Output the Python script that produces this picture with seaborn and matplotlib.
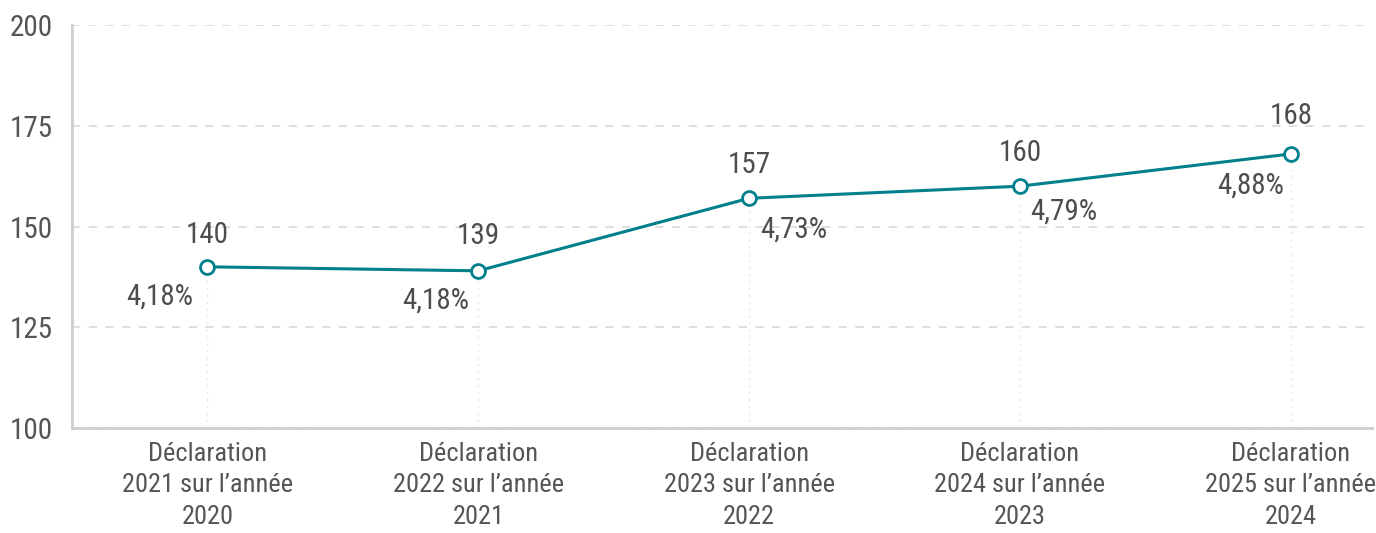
import matplotlib.pyplot as plt
import seaborn as sns
import pandas as pd
import numpy as np

# données
categories = [
    "Déclaration\n2021 sur l’année\n2020",
    "Déclaration\n2022 sur l’année\n2021",
    "Déclaration\n2023 sur l’année\n2022",
    "Déclaration\n2024 sur l’année\n2023",
    "Déclaration\n2025 sur l’année\n2024",
]
values = [140, 139, 157, 160, 168]
pct_labels = ["4,18%", "4,18%", "4,73%", "4,79%", "4,88%"]

# placement des étiquettes de pourcentage (pixels)
pct_offsets = [(-14, -30), (-9, -30), (11, -31), (10, -25), (-7, -32)]
pct_ha = ["right", "right", "left", "left", "right"]
val_offsets = [-32, -35, -33, -33, -38]

sns.set_style("white")
plt.rcParams["font.family"] = ["Roboto Condensed", "Barlow Condensed", "DejaVu Sans"]

TEAL = "#00808c"
TXT = "#555555"
GRID = "#d9d9d9"

df = pd.DataFrame({"x": np.arange(len(values)), "y": values})

fig = plt.figure(figsize=(13.76, 5.33), dpi=100)
ax = fig.add_axes([72 / 1376, 1 - 428 / 533, 1300 / 1376, 403 / 533])

ax.set_ylim(100, 200)
ax.set_xlim(-0.5, 4.3)
ax.set_yticks([100, 125, 150, 175, 200])
ax.yaxis.grid(True, color=GRID, linestyle=(0, (5, 5)), linewidth=1.2)
ax.set_axisbelow(True)

# lignes verticales pointillées
for i, v in enumerate(values):
    ax.plot([i, i], [100, v], color="#dddddd", linestyle=(0, (1, 4)), linewidth=1, zorder=1)

sns.lineplot(data=df, x="x", y="y", ax=ax, color=TEAL, linewidth=2.2,
             marker="o", markersize=10, markerfacecolor="white",
             markeredgecolor=TEAL, markeredgewidth=2, zorder=3)

px2pt = 72 / 100
for i, v in enumerate(values):
    ax.annotate(str(v), (i, v), xytext=(0, -val_offsets[i] * px2pt), textcoords="offset points",
                ha="center", va="center", fontsize=21, color="#4d4d4d")
    dx, dy = pct_offsets[i]
    ax.annotate(pct_labels[i], (i, v), xytext=(dx * px2pt, dy * px2pt), textcoords="offset points",
                ha=pct_ha[i], va="center", fontsize=21, color="#4d4d4d")

ax.set_xticks(range(len(categories)))
ax.set_xticklabels(categories, fontsize=19, color=TXT, linespacing=1.4)
ax.tick_params(axis="y", labelsize=21, labelcolor=TXT, length=0, pad=14)
ax.tick_params(axis="x", length=0, pad=10)
ax.set_xlabel("")
ax.set_ylabel("")

sns.despine(ax=ax, top=True, right=True)
for s in ["left", "bottom"]:
    ax.spines[s].set_color("#cfcfcf")
    ax.spines[s].set_linewidth(2)

fig.savefig("out.png", dpi=100)
